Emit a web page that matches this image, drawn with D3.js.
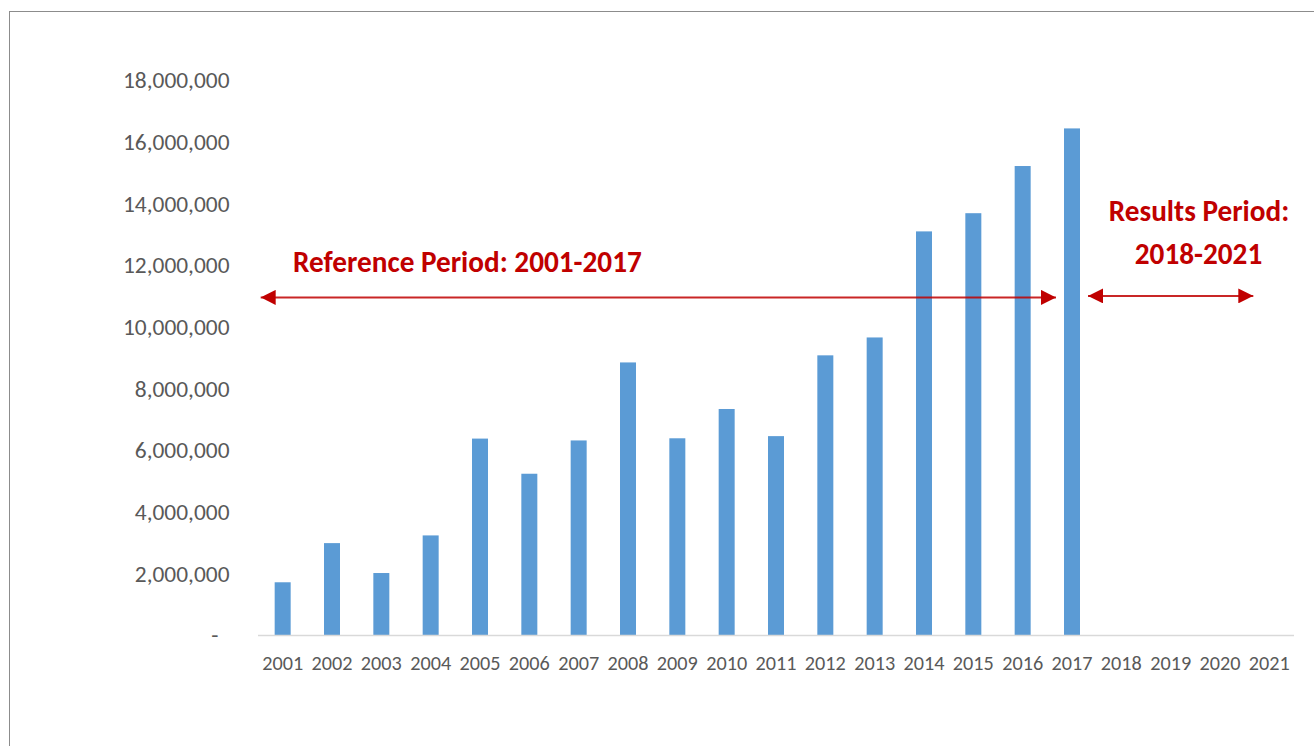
<!DOCTYPE html>
<html><head><meta charset="utf-8">
<script src="https://cdn.jsdelivr.net/npm/d3@7"></script>
<style>html,body{margin:0;padding:0;background:#fff;overflow:hidden}</style>
</head><body><svg id="c" width="1314" height="746"></svg>
<script>
// ---- data ----
const years = ["2001","2002","2003","2004","2005","2006","2007","2008","2009","2010","2011","2012","2013","2014","2015","2016","2017","2018","2019","2020","2021"];
const values = [1710000, 2980000, 2010000, 3230000, 6370000, 5230000, 6310000, 8840000, 6380000, 7330000, 6450000, 9070000, 9650000, 13090000, 13680000, 15210000, 16430000, null, null, null, null];
const yTickValues = [0, 2000000, 4000000, 6000000, 8000000, 10000000, 12000000, 14000000, 16000000, 18000000];
const refLabel = "Reference Period: 2001-2017";
const resLabelLines = ["Results Period:", "2018-2021"];
const refSpan = ["2001", "2017"];
const resSpan = ["2017", "2021"];

// ---- layout ----
const svg = d3.select("#c");
const W = 1314, H = 746;
const x0 = 258, x1 = 1294, yBase = 635, yTop = 80;
const labelColor = "#595959";
const red = "#C00000";
const barColor = "#5B9BD5";
const font = "Carlito, Calibri, Lato, 'Open Sans', sans-serif";

function fit(sel, target) {
  const fs = parseFloat(sel.attr("font-size"));
  const w = sel.node().getComputedTextLength();
  const nfs = fs * target / w;
  sel.attr("font-size", nfs);
  return nfs;
}

// frame
svg.append("rect").attr("x", 9.5).attr("y", 11.5).attr("width", 1400).attr("height", 800)
  .attr("fill", "none").attr("stroke", "#8c8c8c").attr("stroke-width", 1);

const x = d3.scaleBand().domain(years).range([x0, x1]).paddingInner(0.67).paddingOuter(0.335);
const xc = d3.scaleBand().domain(years).range([x0, x1]);
const y = d3.scaleLinear().domain([0, 18000000]).range([yBase, yTop]);

// bars
svg.append("g").selectAll("rect").data(years.map((d, i) => ({ year: d, v: values[i] })).filter(d => d.v != null))
  .join("rect")
  .attr("x", d => xc(d.year) + xc.bandwidth() / 2 - 8)
  .attr("width", 16)
  .attr("y", d => y(d.v))
  .attr("height", d => yBase - y(d.v))
  .attr("fill", barColor);

// baseline
svg.append("line").attr("x1", x0).attr("x2", x1).attr("y1", yBase + 0.5).attr("y2", yBase + 0.5)
  .attr("stroke", "#D9D9D9").attr("stroke-width", 1.5);

// y labels
const fmt = d3.format(",");
const probeY = svg.append("text").attr("font-family", font).attr("font-size", 18).text("18,000,000");
const yfs = fit(probeY, 106.6);
probeY.remove();
svg.append("g").selectAll("text").data(yTickValues).join("text")
  .attr("x", d => d === 0 ? 218.5 : 229.5)
  .attr("y", d => y(d))
  .attr("dy", "0.35em")
  .attr("text-anchor", "end")
  .attr("font-family", font).attr("font-size", yfs)
  .attr("fill", labelColor)
  .text(d => d === 0 ? "-" : fmt(d));

// x labels
const probeX = svg.append("text").attr("font-family", font).attr("font-size", 18).text("2001");
const xfs = fit(probeX, 41);
probeX.remove();
svg.append("g").selectAll("text").data(years).join("text")
  .attr("x", d => xc(d) + xc.bandwidth() / 2)
  .attr("y", 663)
  .attr("dy", "0.35em")
  .attr("text-anchor", "middle")
  .attr("font-family", font).attr("font-size", xfs)
  .attr("fill", labelColor)
  .text(d => d);

// arrows
const defs = svg.append("defs");
function marker(id, orient) {
  defs.append("marker").attr("id", id).attr("viewBox", "0 0 10 10")
    .attr("refX", 10).attr("refY", 5).attr("markerWidth", 15).attr("markerHeight", 15)
    .attr("markerUnits", "userSpaceOnUse").attr("orient", orient)
    .append("path").attr("d", "M0,0 L10,5 L0,10 Z").attr("fill", red);
}
marker("ah", "auto-start-reverse");

const cx = d => xc(d) + xc.bandwidth() / 2;
const arrowY = y(10950000);
svg.append("line")
  .attr("x1", cx(refSpan[0]) - 22).attr("x2", cx(refSpan[1]) - 16)
  .attr("y1", arrowY).attr("y2", arrowY)
  .attr("stroke", red).attr("stroke-width", 2).attr("stroke-opacity", 0.85)
  .attr("marker-start", "url(#ah)").attr("marker-end", "url(#ah)");
svg.append("line")
  .attr("x1", cx(resSpan[0]) + 16).attr("x2", cx(resSpan[1]) - 16)
  .attr("y1", arrowY - 1.5).attr("y2", arrowY - 1.5)
  .attr("stroke", red).attr("stroke-width", 2).attr("stroke-opacity", 0.85)
  .attr("marker-start", "url(#ah)").attr("marker-end", "url(#ah)");

// annotation texts
const t1 = svg.append("text").attr("font-family", font).attr("font-weight", "bold")
  .attr("font-size", 24).attr("fill", red).attr("text-anchor", "middle")
  .attr("x", 467.4).attr("y", 272).text(refLabel);
const afs = fit(t1, 349);
const t2 = svg.append("text").attr("font-family", font).attr("font-weight", "bold")
  .attr("font-size", afs).attr("fill", red).attr("text-anchor", "middle")
  .attr("x", 1199).attr("y", 221).text(resLabelLines[0]);
svg.append("text").attr("font-family", font).attr("font-weight", "bold")
  .attr("font-size", afs).attr("fill", red).attr("text-anchor", "middle")
  .attr("x", 1198.5).attr("y", 264).text(resLabelLines[1]);
</script></body></html>
